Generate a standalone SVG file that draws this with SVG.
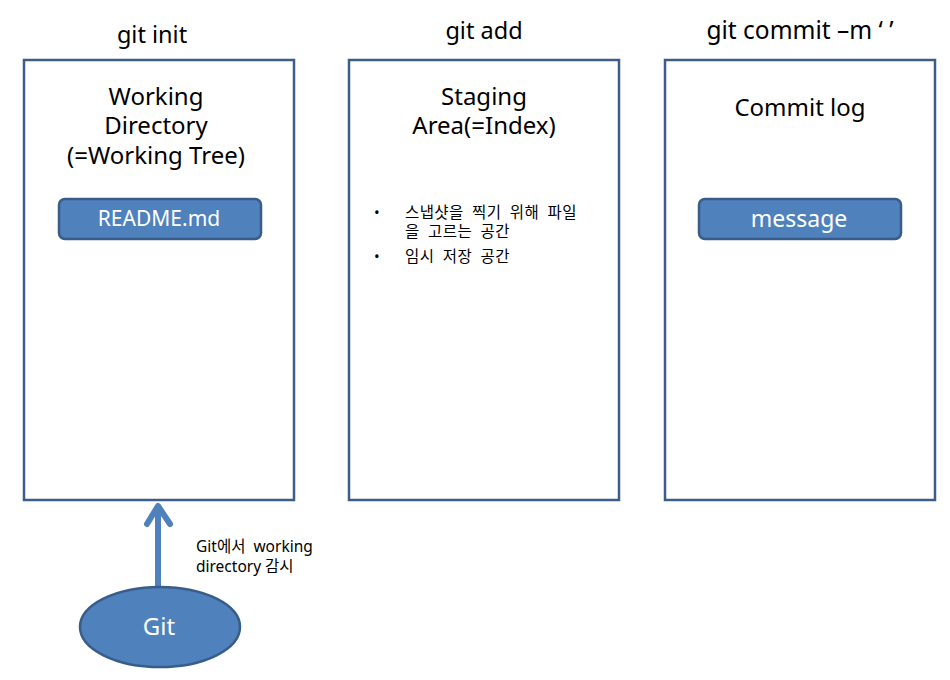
<svg xmlns="http://www.w3.org/2000/svg" width="950" height="680" viewBox="0 0 950 680">
<style>
text{font-family:"Noto Sans","Noto Sans CJK KR",sans-serif;fill:#000}
.title{font-size:23.5px;text-anchor:middle}
.head{font-size:24px;text-anchor:middle}
.box{fill:#fff;stroke:#3d5c8a;stroke-width:2.5}
.btn{fill:#4f81bd;stroke:#385d8a;stroke-width:2.5}
.btxt{font-size:21px;fill:#fff;text-anchor:middle}
.bul{font-size:15px}
.kr{font-size:15.5px;letter-spacing:0.4px;word-spacing:4px}
.lbl{font-size:15.5px}
</style>
<rect width="950" height="680" fill="#fff"/>
<text class="title" x="152" y="43">git init</text>
<text class="title" x="484" y="39">git add</text>
<text class="title" x="800" y="39" style="font-size:24.5px">git commit –m ‘ ’</text>
<g id="working-directory">
<rect class="box" x="24" y="60" width="270" height="440"/>
<text class="head"><tspan x="156" y="105">Working</tspan><tspan x="156" y="134">Directory</tspan><tspan x="156" y="164">(=Working Tree)</tspan></text>
</g>
<g id="readme">
<rect class="btn" x="59" y="199" width="202" height="40" rx="6"/>
<text class="btxt" x="159" y="226">README.md</text>
</g>
<g id="staging-area">
<rect class="box" x="349" y="60" width="270" height="440"/>
<text class="head"><tspan x="484" y="105">Staging</tspan><tspan x="484" y="134">Area(=Index)</tspan></text>
<text class="bul" x="374" y="218">•</text>
<text class="kr"><tspan x="405" y="218">스냅샷을 찍기 위해 파일</tspan><tspan x="405" y="237">을 고르는 공간</tspan></text>
<text class="bul" x="374" y="262">•</text>
<text class="kr" x="405" y="262">임시 저장 공간</text>
</g>
<g id="commit-log">
<rect class="box" x="665" y="60" width="270" height="440"/>
<text class="head" x="800" y="116">Commit log</text>
</g>
<g id="message">
<rect class="btn" x="699" y="199" width="202" height="40" rx="6"/>
<text class="btxt" x="799" y="227" style="font-size:23px">message</text>
</g>
<g id="connectors">
<line x1="158" y1="588" x2="158" y2="506" stroke="#4f81bd" stroke-width="6"/>
<polyline points="147,524 158,506 170,524" fill="none" stroke="#4f81bd" stroke-width="6" stroke-linecap="round" stroke-linejoin="round"/>
<text class="lbl"><tspan x="196" y="552" style="word-spacing:4px">Git에서 working</tspan><tspan x="196" y="572">directory 감시</tspan></text>
</g>
<g id="git">
<ellipse cx="160" cy="627" rx="80" ry="40" fill="#4f81bd" stroke="#385d8a" stroke-width="2.5"/>
<text class="btxt" x="159" y="635" style="font-size:24px">Git</text>
</g>
</svg>
